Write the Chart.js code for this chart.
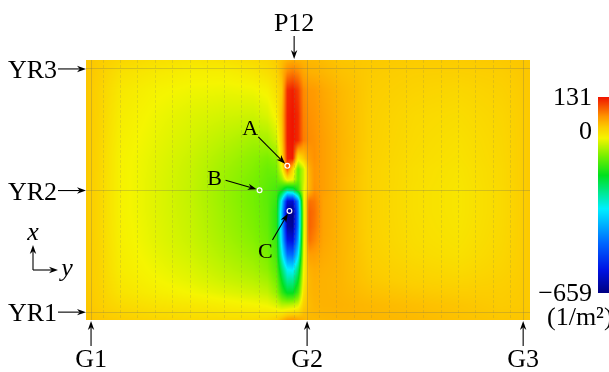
<!DOCTYPE html>
<html>
<head>
<meta charset="utf-8">
<script src="https://cdn.jsdelivr.net/npm/chart.js@4.4.0/dist/chart.umd.min.js"></script>
<style>
  html, body { margin: 0; padding: 0; background: #fff; }
</style>
</head>
<body>
<canvas id="deckChart" width="609" height="372"></canvas>
<script>
// horizontal coordinate of the field samples (y, m from G1)
const sampleY = [-0.14, 0.2, 0.8, 1.8, 2.8, 3.8, 4.5, 4.9, 5.15, 5.3, 5.45, 5.6, 5.75, 5.9, 6.05, 6.2, 6.45, 6.95, 7.8, 9.0, 10.2, 11.4, 12.19];
// vertical coordinate of the field samples (x, m from YR1), top row first
const sampleX = [7.05, 6.7, 6.2, 5.5, 4.8, 4.3, 4.0, 3.7, 3.4, 3.1, 2.8, 2.4, 2.0, 1.6, 1.2, 0.9, 0.55, 0.2, -0.22];
// curvature values (1/m^2), one row per sampleX
const curvature = [
  [15, 10, 0, -10, -15, -12, -5, 0, 10, 20, 30, 35, 32, 28, 25, 25, 22, 15, 12, 10, 10, 12, 15],
  [15, 8, -12, -22, -28, -28, -20, -10, 0, 25, 60, 70, 60, 40, 32, 30, 27, 18, 10, 6, 5, 8, 14],
  [14, 4, -20, -32, -38, -40, -38, -30, -12, 10, 115, 125, 105, 60, 50, 48, 38, 24, 8, 2, -2, 4, 13],
  [14, 3, -25, -38, -48, -55, -58, -50, -30, 20, 122, 131, 118, 65, 55, 52, 42, 26, 6, -4, -8, 0, 12],
  [13, 2, -28, -42, -55, -70, -82, -80, -60, 10, 125, 131, 118, 68, 58, 55, 45, 28, 5, -6, -12, -2, 12],
  [13, 1, -30, -45, -60, -80, -95, -105, -95, -10, 120, 128, -20, 10, 45, 55, 45, 28, 4, -8, -14, -3, 12],
  [13, 1, -30, -46, -62, -85, -100, -115, -110, -40, 90, 0, -120, -60, 30, 52, 45, 28, 3, -10, -16, -4, 12],
  [12, 0, -30, -47, -63, -88, -105, -120, -125, -90, -25, -40, -120, -60, 25, 52, 45, 27, 3, -10, -17, -4, 12],
  [12, 0, -30, -47, -64, -90, -108, -125, -140, -180, -260, -240, -160, -50, 25, 55, 45, 27, 3, -11, -18, -5, 12],
  [12, 0, -30, -47, -64, -90, -108, -125, -150, -340, -580, -590, -420, -60, 75, 70, 42, 27, 3, -11, -18, -5, 12],
  [12, 0, -30, -47, -63, -88, -106, -123, -160, -370, -640, -655, -450, -70, 85, 75, 42, 27, 3, -11, -18, -5, 12],
  [12, 0, -29, -46, -62, -86, -103, -120, -160, -370, -625, -640, -440, -70, 85, 72, 42, 27, 3, -10, -17, -4, 12],
  [12, 1, -28, -45, -60, -82, -98, -115, -150, -350, -560, -575, -400, -60, 75, 62, 40, 27, 4, -9, -15, -3, 12],
  [12, 2, -26, -42, -56, -76, -90, -105, -140, -300, -450, -460, -330, -50, 45, 45, 36, 27, 6, -6, -12, -1, 12],
  [12, 3, -24, -38, -50, -68, -80, -95, -125, -230, -320, -330, -240, -40, 30, 35, 32, 27, 9, 0, -6, 2, 12],
  [12, 4, -20, -34, -45, -60, -70, -82, -110, -190, -260, -260, -190, -30, 25, 32, 30, 27, 12, 4, 0, 5, 12],
  [13, 6, -15, -27, -36, -47, -55, -64, -90, -150, -190, -190, -140, -15, 25, 30, 30, 28, 18, 12, 8, 8, 12],
  [14, 8, -5, -15, -20, -28, -33, -38, -50, -70, -70, -65, -50, 5, 22, 28, 30, 30, 25, 20, 15, 10, 12],
  [18, 14, 8, 0, -5, -8, -8, -5, 5, 25, 45, 50, 40, 30, 25, 25, 26, 28, 27, 24, 18, 14, 15]
];
const valueMin = -659;
const valueMax = 131;
const colorTicks = [131, 0, -659];

const girderPos = [0, 6, 12];
const girderLabels = ["G1", "G2", "G3"];
const rowPos = [0, 3.4, 6.8];
const rowLabels = ["YR1", "YR2", "YR3"];
const pierPos = 5.64;
const pierLabel = "P12";
const ribPos = [0.34, 0.82, 1.3, 1.79, 2.27, 2.75, 3.23, 3.71, 4.19, 4.68, 5.16, 5.64,
  6.35, 6.83, 7.31, 7.8, 8.28, 8.76, 9.24, 9.72, 10.2, 10.69, 11.17, 11.65];
const pointLabels = ["A", "B", "C"];
const pointY = [5.45, 4.68, 5.51];
const pointX = [4.09, 3.41, 2.83];

// colour map (fraction, r, g, b)
const cmap = [
  [0.00, 0, 0, 130], [0.12, 0, 20, 230], [0.25, 0, 100, 255], [0.43, 0, 240, 255],
  [0.60, 0, 225, 30], [0.70, 120, 240, 0], [0.79, 245, 245, 0], [0.845, 252, 205, 0],
  [0.90, 255, 150, 0], [1.00, 240, 20, 0]
];

function colorFor(v) {
  let t = (v - valueMin) / (valueMax - valueMin);
  t = Math.max(0, Math.min(1, t));
  for (let i = 1; i < cmap.length; i++) {
    if (t <= cmap[i][0]) {
      const a = cmap[i - 1], b = cmap[i];
      const f = (t - a[0]) / (b[0] - a[0]);
      return [a[1] + (b[1] - a[1]) * f, a[2] + (b[2] - a[2]) * f, a[3] + (b[3] - a[3]) * f];
    }
  }
  const l = cmap[cmap.length - 1];
  return [l[1], l[2], l[3]];
}

function locate(arr, v) {
  // arr may be ascending or descending
  for (let i = 0; i < arr.length - 1; i++) {
    const a = arr[i], b = arr[i + 1];
    if ((v - a) * (v - b) <= 0) return [i, (v - a) / (b - a)];
  }
  return v < Math.min(arr[0], arr[arr.length - 1]) === (arr[0] < arr[1]) ? [0, 0] : [arr.length - 2, 1];
}

const heatmap = {
  id: "heatmap",
  beforeDraw(chart) {
    const { ctx, chartArea: area, scales } = chart;
    const w = Math.round(area.right - area.left), h = Math.round(area.bottom - area.top);
    const off = document.createElement("canvas");
    off.width = w; off.height = h;
    const octx = off.getContext("2d");
    const img = octx.createImageData(w, h);
    const cols = [], rows = [];
    for (let px = 0; px < w; px++) cols.push(locate(sampleY, scales.x.getValueForPixel(area.left + px + 0.5)));
    for (let py = 0; py < h; py++) rows.push(locate(sampleX, scales.y.getValueForPixel(area.top + py + 0.5)));
    for (let py = 0; py < h; py++) {
      const [ri, rf] = rows[py];
      const r0 = curvature[ri], r1 = curvature[ri + 1];
      for (let px = 0; px < w; px++) {
        const [ci, cf] = cols[px];
        const top = r0[ci] + (r0[ci + 1] - r0[ci]) * cf;
        const bot = r1[ci] + (r1[ci + 1] - r1[ci]) * cf;
        const c = colorFor(top + (bot - top) * rf);
        const k = (py * w + px) * 4;
        img.data[k] = c[0]; img.data[k + 1] = c[1]; img.data[k + 2] = c[2]; img.data[k + 3] = 255;
      }
    }
    octx.putImageData(img, 0, 0);
    ctx.drawImage(off, area.left, area.top);

    // colour bar
    const cbTop = 97, cbBot = 293, cbLeft = 598;
    for (let y = cbTop; y < cbBot; y++) {
      const v = valueMax - (valueMax - valueMin) * (y - cbTop + 0.5) / (cbBot - cbTop);
      const c = colorFor(v);
      ctx.fillStyle = `rgb(${c[0] | 0},${c[1] | 0},${c[2] | 0})`;
      ctx.fillRect(cbLeft, y, 12, 1);
    }
    ctx.fillStyle = "#000";
    ctx.font = "26px 'Liberation Serif', serif";
    ctx.textAlign = "right";
    ctx.textBaseline = "middle";
    colorTicks.forEach(t => {
      const y = cbTop + (valueMax - t) / (valueMax - valueMin) * (cbBot - cbTop);
      ctx.fillText(t < 0 ? "\u2212" + Math.abs(t) : String(t), 592, y + (t === 0 ? 3 : 1));
    });
    ctx.textAlign = "left";
    ctx.fillText("(1/m\u00B2)", 547, 318);
  }
};

function arrow(ctx, x1, y1, x2, y2) {
  const ang = Math.atan2(y2 - y1, x2 - x1), L = 9, W = 3.2;
  ctx.beginPath();
  ctx.moveTo(x1, y1);
  ctx.lineTo(x2 - Math.cos(ang) * L * 0.7, y2 - Math.sin(ang) * L * 0.7);
  ctx.stroke();
  ctx.beginPath();
  ctx.moveTo(x2, y2);
  ctx.lineTo(x2 - Math.cos(ang) * L - Math.sin(ang) * W, y2 - Math.sin(ang) * L + Math.cos(ang) * W);
  ctx.lineTo(x2 - Math.cos(ang) * L * 0.7, y2 - Math.sin(ang) * L * 0.7);
  ctx.lineTo(x2 - Math.cos(ang) * L + Math.sin(ang) * W, y2 - Math.sin(ang) * L - Math.cos(ang) * W);
  ctx.closePath();
  ctx.fill();
}

const labels = {
  id: "labels",
  afterDraw(chart) {
    const { ctx, chartArea: area, scales } = chart;
    ctx.save();
    ctx.strokeStyle = "#000";
    ctx.fillStyle = "#000";
    ctx.lineWidth = 1.1;
    ctx.font = "26px 'Liberation Serif', serif";
    ctx.textBaseline = "alphabetic";

    ctx.textAlign = "right";
    rowPos.forEach((v, i) => {
      const y = scales.y.getPixelForValue(v);
      ctx.fillText(rowLabels[i], 57, y + 9);
      arrow(ctx, 58, y, area.left, y);
    });
    ctx.textAlign = "center";
    girderPos.forEach((v, i) => {
      const x = scales.x.getPixelForValue(v);
      ctx.fillText(girderLabels[i], x, 367);
      arrow(ctx, x, 346, x, area.bottom + 1);
    });
    const px = scales.x.getPixelForValue(pierPos);
    ctx.fillText(pierLabel, px, 31);
    arrow(ctx, px, 36, px, area.top - 1);

    // point labels: text offset (dx, dy) then arrow start offset (dx, dy)
    const offs = [[-37, -31, -29, -29], [-45, -5, -34, -10], [-24, 47, -17, 29]];
    ctx.font = "22px 'Liberation Serif', serif";
    pointLabels.forEach((l, i) => {
      const x = scales.x.getPixelForValue(pointY[i]), y = scales.y.getPixelForValue(pointX[i]);
      const o = offs[i];
      ctx.fillText(l, x + o[0], y + o[1]);
      const dx = -o[2], dy = -o[3], d = Math.hypot(dx, dy);
      arrow(ctx, x + o[2], y + o[3], x - dx / d * 3, y - dy / d * 3);
    });

    // axis indicator
    ctx.font = "italic 26px 'Liberation Serif', serif";
    arrow(ctx, 33, 270, 33, 245);
    arrow(ctx, 33, 270, 58, 270);
    ctx.fillText("x", 33, 240);
    ctx.fillText("y", 67, 276);
    ctx.restore();
  }
};

const lineCol = "rgba(120,115,90,0.3)";

new Chart(document.getElementById("deckChart"), {
  type: "scatter",
  data: {
    datasets: [{
      data: pointY.map((v, i) => ({ x: v, y: pointX[i] })),
      pointRadius: 2.4,
      pointBorderWidth: 1.2,
      pointBorderColor: "#fff",
      pointBackgroundColor: "rgba(0,0,0,0)"
    }]
  },
  options: {
    responsive: false,
    animation: false,
    layout: { padding: { left: 86, right: 79, top: 60, bottom: 52 } },
    plugins: { legend: { display: false }, tooltip: { enabled: false } },
    scales: {
      x: {
        type: "linear", min: -0.14, max: 12.19,
        afterBuildTicks: axis => { axis.ticks = ribPos.map(v => ({ value: v })); },
        ticks: { display: false },
        grid: { color: "rgba(130,125,90,0.2)", drawTicks: false },
        border: { display: false, dash: [3, 2] }
      },
      g: {
        type: "linear", position: "bottom", min: -0.14, max: 12.19,
        afterBuildTicks: axis => { axis.ticks = girderPos.map(v => ({ value: v })); },
        ticks: { display: false },
        grid: { color: lineCol, drawTicks: false },
        border: { display: false }
      },
      y: {
        type: "linear", min: -0.22, max: 7.05,
        afterBuildTicks: axis => { axis.ticks = rowPos.map(v => ({ value: v })); },
        ticks: { display: false },
        grid: { color: lineCol, drawTicks: false },
        border: { display: false }
      }
    }
  },
  plugins: [heatmap, labels]
});
</script>
</body>
</html>
